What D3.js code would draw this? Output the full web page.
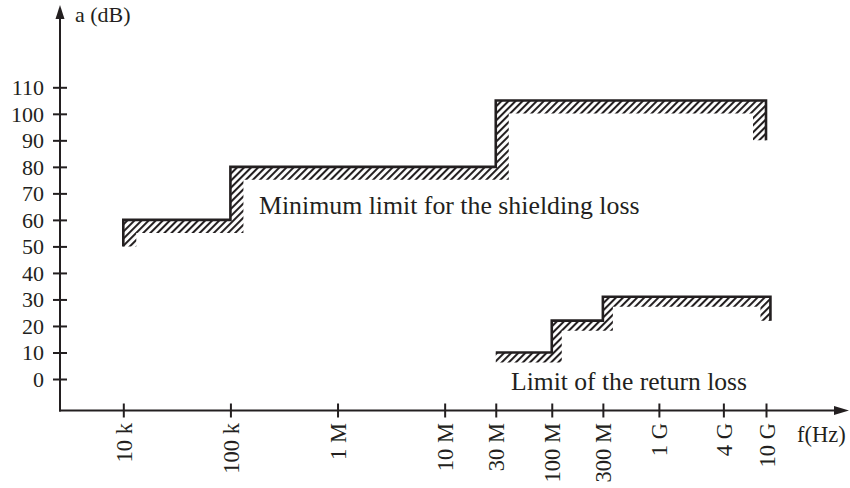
<!DOCTYPE html>
<html>
<head>
<meta charset="utf-8">
<script src="https://cdn.jsdelivr.net/npm/d3@7"></script>
<style>
  html, body { margin: 0; padding: 0; background: #fff; }
  svg { display: block; }
  text { font-family: "Liberation Serif", "Times New Roman", serif; fill: #231f20; }
</style>
</head>
<body>
<svg id="chart" width="850" height="488"></svg>
<script>
// ---- data ----
const freqTicks = [1e4, 1e5, 1e6, 1e7, 3e7, 1e8, 3e8, 1e9, 4e9, 1e10];
const freqLabels = ["10 k", "100 k", "1 M", "10 M", "30 M", "100 M", "300 M", "1 G", "4 G", "10 G"];
const dbTicks = [0, 10, 20, 30, 40, 50, 60, 70, 80, 90, 100, 110];

const shieldFreq = [1e4, 1e4, 1e5, 1e5, 3e7, 3e7, 1e10, 1e10];
const shieldDB   = [50, 60, 60, 80, 80, 105, 105, 90];

const returnFreq = [3e7, 1e8, 1e8, 3e8, 3e8, 1.1e10, 1.1e10];
const returnDB   = [10, 10, 22, 22, 31, 31, 22];

const labels = {
  yTitle: "a (dB)",
  xTitle: "f(Hz)",
  shield: "Minimum limit for the shielding loss",
  ret: "Limit of the return loss"
};

// ---- layout ----
const ink = "#231f20";
const svg = d3.select("#chart");
const axisX0 = 60, axisY0 = 410.5;

const x = d3.scaleLog().domain([1e4, 1e10]).range([123.3, 766]);
const y = d3.scaleLinear().domain([0, 110]).range([379, 87.3]);

// hatch pattern
const defs = svg.append("defs");
const pat = defs.append("pattern")
  .attr("id", "hatch")
  .attr("patternUnits", "userSpaceOnUse")
  .attr("width", 5).attr("height", 10)
  .attr("patternTransform", "rotate(45)");
pat.append("line")
  .attr("x1", 1).attr("y1", 0).attr("x2", 1).attr("y2", 10)
  .attr("stroke", ink).attr("stroke-width", 2.1);

// ---- axes ----
svg.append("line")
  .attr("x1", axisX0).attr("y1", axisY0 + 1).attr("x2", axisX0).attr("y2", 12)
  .attr("stroke", ink).attr("stroke-width", 2);
svg.append("path")
  .attr("d", `M${axisX0},5 L${axisX0 - 4.5},19 L${axisX0 + 4.5},19 Z`)
  .attr("fill", ink);

svg.append("line")
  .attr("x1", axisX0 - 1).attr("y1", axisY0).attr("x2", 840).attr("y2", axisY0)
  .attr("stroke", ink).attr("stroke-width", 2);
svg.append("path")
  .attr("d", `M849,${axisY0} L834,${axisY0 - 4.5} L834,${axisY0 + 4.5} Z`)
  .attr("fill", ink);

const yAxis = svg.append("g")
  .attr("transform", `translate(${axisX0},0)`)
  .call(d3.axisLeft(y).tickValues(dbTicks).tickSize(7).tickPadding(9));
yAxis.select(".domain").remove();
yAxis.selectAll(".tick line")
  .attr("x1", 7).attr("x2", -7)
  .attr("stroke", ink).attr("stroke-width", 2);
yAxis.selectAll(".tick text")
  .attr("font-family", "Liberation Serif, serif")
  .attr("font-size", 22)
  .attr("fill", ink)
  .attr("dy", "0.34em");

const xAxis = svg.append("g")
  .attr("transform", `translate(0,${axisY0})`)
  .call(d3.axisBottom(x).tickValues(freqTicks)
    .tickFormat((d, i) => freqLabels[i]).tickSize(7));
xAxis.select(".domain").remove();
xAxis.selectAll(".tick line")
  .attr("y1", -7).attr("y2", 7)
  .attr("stroke", ink).attr("stroke-width", 2);
xAxis.selectAll(".tick text")
  .attr("font-family", "Liberation Serif, serif")
  .attr("font-size", 22.5)
  .attr("fill", ink)
  .attr("text-anchor", "end")
  .attr("transform", "translate(0,12.5) rotate(-90)")
  .attr("x", 0).attr("y", 0)
  .attr("dy", "0.36em");

svg.append("text").attr("x", 75).attr("y", 22)
  .attr("font-size", 22).text(labels.yTitle);
svg.append("text").attr("x", 797).attr("y", 442)
  .attr("font-size", 22.5).text(labels.xTitle);

// ---- hatched limit curves ----
function hatchedCurve(freqs, dbs, depth) {
  const pts = freqs.map((f, i) => [x(f), y(dbs[i])]);
  const segN = [];
  for (let i = 0; i < pts.length - 1; i++) {
    const dx = pts[i + 1][0] - pts[i][0], dy = pts[i + 1][1] - pts[i][1];
    const len = Math.hypot(dx, dy) || 1;
    segN.push([-dy / len, dx / len]);
  }
  const off = pts.map((p, i) => {
    let nx = 0, ny = 0;
    if (i > 0) { nx += segN[i - 1][0]; ny += segN[i - 1][1]; }
    if (i < pts.length - 1) { nx += segN[i][0]; ny += segN[i][1]; }
    return [p[0] + nx * depth, p[1] + ny * depth];
  });
  const poly = pts.concat(off.slice().reverse());
  svg.append("path")
    .attr("d", "M" + poly.map(p => p.join(",")).join("L") + "Z")
    .attr("fill", "url(#hatch)");
  svg.append("path")
    .attr("d", d3.line()(pts))
    .attr("fill", "none")
    .attr("stroke", ink)
    .attr("stroke-width", 2.6)
    .attr("stroke-linejoin", "miter")
    .attr("stroke-linecap", "butt");
}

hatchedCurve(shieldFreq, shieldDB, 13);
hatchedCurve(returnFreq, returnDB, 10);

svg.append("text").attr("x", 259).attr("y", 214)
  .attr("font-size", 25.8).text(labels.shield);
svg.append("text").attr("x", 511).attr("y", 390)
  .attr("font-size", 25.6).text(labels.ret);
</script>
</body>
</html>
